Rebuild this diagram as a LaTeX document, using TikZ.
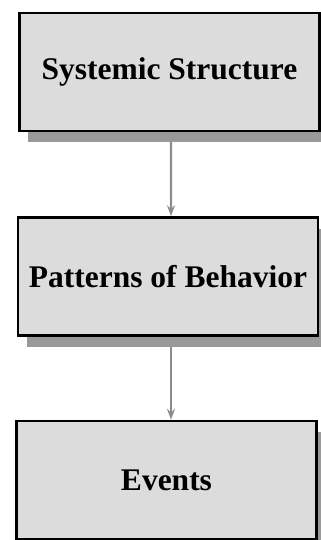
\documentclass[tikz,border=0pt]{standalone}
\usepackage{fontspec}
\setmainfont{Liberation Serif}
\usepackage{tikz}
\usetikzlibrary{positioning, arrows.meta, shadows, backgrounds}
\definecolor{boxgray}{RGB}{220, 220, 220}
\definecolor{shadegray}{RGB}{153, 153, 153}
\definecolor{linkgray}{RGB}{140, 140, 140}
\tikzset{
    levelbox/.style={
        draw=black, line width=2.5bp, fill=boxgray,
        minimum width=300bp, minimum height=118bp, inner sep=0pt,
        font=\fontsize{31.5bp}{36bp}\selectfont\bfseries,
        drop shadow={shadow xshift=9bp, shadow yshift=-11bp, fill=shadegray, opacity=1}
    },
    flowarrow/.style={
        -{Stealth[length=11bp, width=8bp, inset=4bp]}, linkgray, line width=2.4bp
    }
}
\begin{document}
\begin{tikzpicture}[x=1bp, y=1bp]
    \useasboundingbox (0,0) rectangle (320,-540);

    % --- the three levels ---
    \node[levelbox] (structure) at (169.5,-72) {Systemic Structure};
    \node[levelbox, below=84bp of structure, xshift=-1.5bp] (patterns) {Patterns of Behavior};
    \node[levelbox, below=83bp of patterns, xshift=-1.5bp] (events) {Events};

    % --- links behind the shadows ---
    \begin{scope}[on background layer]
        \draw[flowarrow] ([xshift=1.5bp]structure.south) -- ([xshift=3bp]patterns.north);
        \draw[flowarrow] ([xshift=3bp]patterns.south) -- ([xshift=4.5bp]events.north);
    \end{scope}
\end{tikzpicture}
\end{document}
